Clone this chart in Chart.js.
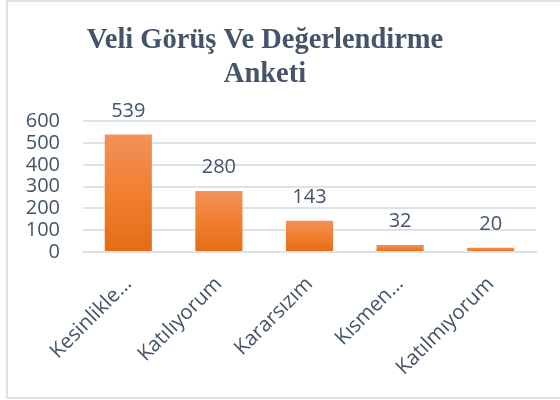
<!DOCTYPE html>
<html>
<head>
<meta charset="utf-8">
<script src="https://cdn.jsdelivr.net/npm/chart.js@4/dist/chart.umd.min.js"></script>
<style>
  html, body { margin: 0; padding: 0; background: #fff; overflow: hidden; }
  #frame { position: absolute; left: 6px; top: 0; width: 560px; height: 395px; border: 2px solid #DDE2E8; border-right: none; }
  #wrap { position: absolute; left: -6px; top: 0; width: 572px; height: 400px; }
</style>
</head>
<body>
<div id="frame"></div>
<div id="wrap"><canvas id="myChart" width="572" height="400"></canvas></div>
<script>
// chart values
var categories = ['Kesinlikle…', 'Katılıyorum', 'Kararsızım', 'Kısmen…', 'Katılmıyorum'];
var values     = [539, 280, 143, 32, 20];
var yTicks     = [0, 100, 200, 300, 400, 500, 600];

var textColor = '#44546A';
var gridColor = '#DDE2E8';

// value labels above bars
const valueLabels = {
    id: 'valueLabels',
    afterDatasetsDraw(chart) {
        const ctx = chart.ctx;
        const meta = chart.getDatasetMeta(0);
        ctx.save();
        ctx.font = '20px "Open Sans"';
        ctx.fillStyle = textColor;
        ctx.textAlign = 'center';
        ctx.textBaseline = 'alphabetic';
        meta.data.forEach(function (bar, i) {
            ctx.fillText(values[i], bar.x, bar.y - 18);
        });
        ctx.restore();
    }
};

// gradient per bar, light on top, darker at base
function barFill(context) {
    const chart = context.chart;
    if (!chart.chartArea || context.raw === undefined) return '#ED7D31';
    const y = chart.scales.y;
    const top = y.getPixelForValue(context.raw);
    const base = y.getPixelForValue(0);
    if (!isFinite(top) || !isFinite(base) || base - top < 1) return '#ED7D31';
    const g = chart.ctx.createLinearGradient(0, top, 0, base);
    g.addColorStop(0, '#F29159');
    g.addColorStop(0.5, '#F17F30');
    g.addColorStop(1, '#E46C14');
    return g;
}

const data = {
    labels: categories,
    datasets: [{ data: values, backgroundColor: barFill, borderWidth: 0, barPercentage: 0.52, categoryPercentage: 1 }]
};

const config = {
    type: 'bar',
    data: data,
    options: {
        responsive: false,
        animation: false,
        layout: { padding: { left: 0, right: 30, top: 0, bottom: 0 } },
        plugins: {
            legend: { display: false },
            tooltip: { enabled: false },
            title: {
                display: true,
                text: ['Veli Görüş Ve Değerlendirme', 'Anketi'],
                color: textColor,
                font: { family: '"Liberation Serif"', size: 28.5, weight: 'bold', lineHeight: 1.18 },
                padding: { top: 24, bottom: 30 }
            }
        },
        scales: {
            x: {
                grid: { display: false, drawTicks: false },
                border: { color: gridColor, width: 2 },
                ticks: {
                    color: textColor,
                    font: { family: '"Open Sans"', size: 20.5 },
                    maxRotation: 45, minRotation: 45,
                    autoSkip: false,
                    padding: 20
                },
                afterFit: function (scale) { scale.height = 148; }
            },
            y: {
                min: 0, max: 600,
                afterBuildTicks: function (scale) { scale.ticks = yTicks.map(function (v) { return { value: v }; }); },
                grid: { color: gridColor, lineWidth: 2, drawTicks: false },
                border: { display: false },
                ticks: {
                    color: textColor,
                    font: { family: '"Open Sans"', size: 20, lineHeight: 1 },
                    autoSkip: false,
                    padding: 23
                },
                afterFit: function (scale) { scale.width = 89; }
            }
        }
    },
    plugins: [valueLabels]
};

const myChart = new Chart(document.querySelector('#myChart'), config);
</script>
</body>
</html>
